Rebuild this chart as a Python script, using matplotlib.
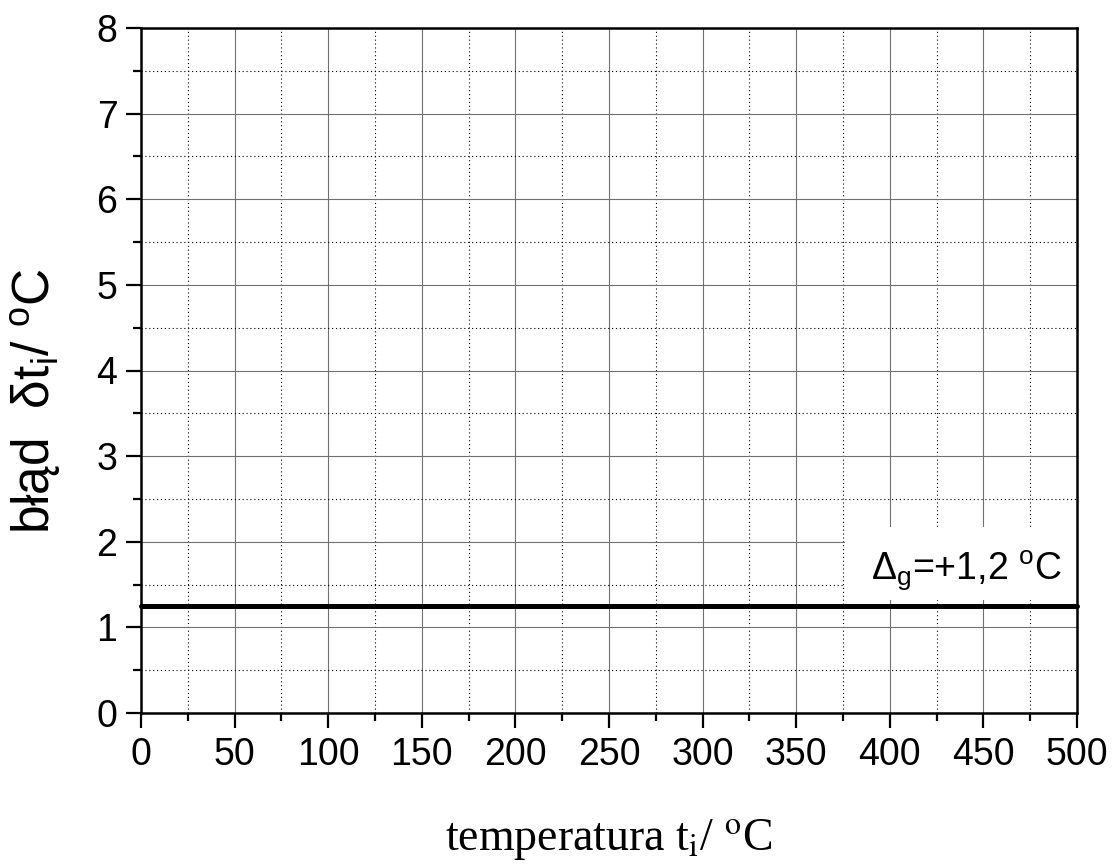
import matplotlib
matplotlib.use("Agg")
import numpy as np
from matplotlib import pyplot as plt
from matplotlib.ticker import MultipleLocator
from matplotlib.patches import Rectangle

# data
temperature = [0, 500]
error = [1.25, 1.25]
label_text = r"$\Delta_{\rm g}$=+1,2 $^{\rm o}$C"

plt.rcParams["font.family"] = ["Liberation Sans", "DejaVu Sans"]
plt.rcParams["mathtext.fontset"] = "custom"
plt.rcParams["mathtext.rm"] = "Liberation Sans"
plt.rcParams["mathtext.it"] = "Liberation Sans:italic"

fig = plt.figure(figsize=(11.14, 8.65), dpi=100)
ax = fig.add_axes([141 / 1114, 1 - 713 / 865, 936 / 1114, 685 / 865])

ax.set_xlim(0, 500)
ax.set_ylim(0, 8)
ax.xaxis.set_major_locator(MultipleLocator(50))
ax.xaxis.set_minor_locator(MultipleLocator(25))
ax.yaxis.set_major_locator(MultipleLocator(1))
ax.yaxis.set_minor_locator(MultipleLocator(0.5))

ax.grid(which="major", color="#707070", linestyle="-", linewidth=0.8)
ax.grid(which="minor", color="black", linestyle=(0, (1, 2.5)), linewidth=0.8)
ax.set_axisbelow(True)

ax.tick_params(which="major", direction="out", length=11, width=1.6,
               labelsize=27, pad=6)
ax.tick_params(which="minor", direction="out", length=6, width=1.6)
for s in ax.spines.values():
    s.set_linewidth(1.8)

# white box behind the annotation
ax.add_patch(Rectangle((0.752, 0.165), 0.248, 0.107, transform=ax.transAxes,
                       facecolor="white", edgecolor="none", zorder=1.5))

ax.plot(temperature, error, color="black", linewidth=3.6,
        solid_capstyle="round", clip_on=False, zorder=3)

ax.text(390, 1.56, label_text, fontsize=27, ha="left", va="baseline", zorder=4)

ax.set_ylabel(r"błąd  δt$_{\rm i}$/ $^{\rm o}$C", fontsize=37)
ax.yaxis.set_label_coords(-0.083, 0.455)

ax.set_xlabel(r"temperatura t$_{\rm i}$/ $^{\rm o}$C", fontsize=33,
              family="Liberation Serif", math_fontfamily="stix", labelpad=32)

fig.savefig("out.png", dpi=100)
